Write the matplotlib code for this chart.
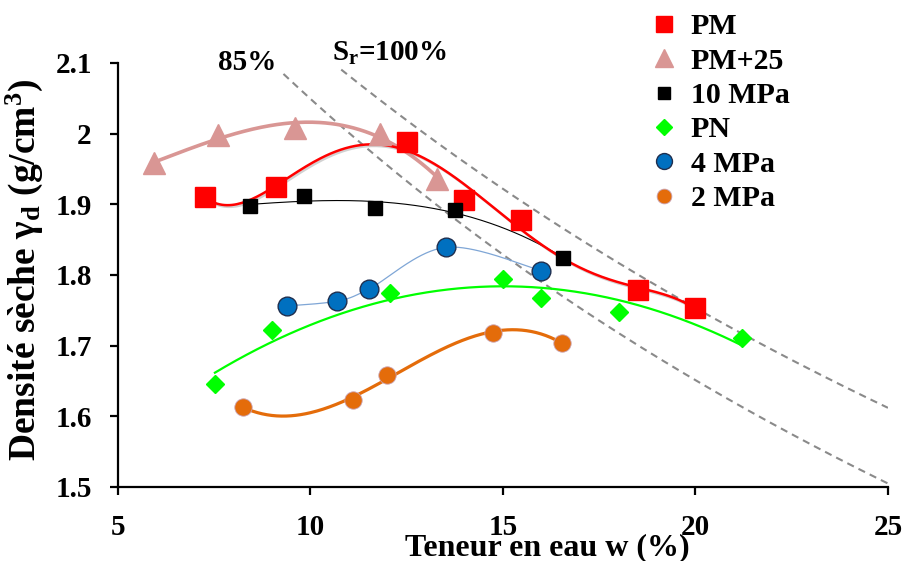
import numpy as np
import matplotlib
matplotlib.use("Agg")
import matplotlib.pyplot as plt
import matplotlib.patheffects as pe

plt.rcParams['font.family'] = ['Liberation Serif', 'DejaVu Serif']
plt.rcParams['font.weight'] = 'bold'
plt.rcParams['mathtext.fontset'] = 'custom'
plt.rcParams['mathtext.rm'] = 'Liberation Serif:bold'
plt.rcParams['mathtext.it'] = 'Liberation Serif:bold:italic'
plt.rcParams['mathtext.bf'] = 'Liberation Serif:bold'

# Données (w en %, densité en g/cm3)
pm_w = [7.26, 9.10, 12.5, 14.0, 15.47, 18.5, 20.0]
pm_d = [1.910, 1.924, 1.988, 1.906, 1.878, 1.779, 1.753]

pm25_w = [5.95, 7.6, 9.6, 11.8, 13.3]
pm25_d = [1.958, 1.998, 2.008, 2.000, 1.936]

mpa10_w = [8.43, 9.83, 11.67, 13.75, 16.56]
mpa10_d = [1.897, 1.912, 1.895, 1.892, 1.824]

pn_w = [7.52, 9.0, 12.06, 15.0, 15.99, 18.01, 21.2]
pn_d = [1.645, 1.722, 1.774, 1.794, 1.768, 1.748, 1.711]

mpa4_w = [9.39, 10.69, 11.52, 13.52, 16.0]
mpa4_d = [1.756, 1.763, 1.780, 1.839, 1.806]

mpa2_w = [8.25, 11.1, 12.0, 14.74, 16.53]
mpa2_d = [1.613, 1.623, 1.658, 1.718, 1.704]

# courbes de saturation (Gs, Sr, début de tracé en w %)
gs = 2.70
sr_levels = [0.85, 1.0]
sr_start = [9.3, 10.8]


def trend(ax, w, d, deg, **kw):
    c = np.polyfit(w, d, deg)
    xx = np.linspace(min(w), max(w), 200)
    ax.plot(xx, np.polyval(c, xx), **kw)


def smooth(ax, w, d, **kw):
    # lissage type Excel (Catmull-Rom)
    p = np.column_stack([w, d])
    p = np.vstack([p[0], p, p[-1]])
    xs, ys = [], []
    t = np.linspace(0, 1, 40)
    for i in range(1, len(p) - 2):
        p0, p1, p2, p3 = p[i - 1], p[i], p[i + 1], p[i + 2]
        for k in range(2):
            a = p0[k]; b = p1[k]; cc = p2[k]; dd = p3[k]
            v = 0.5 * (2 * b + (-a + cc) * t + (2 * a - 5 * b + 4 * cc - dd) * t**2
                       + (-a + 3 * b - 3 * cc + dd) * t**3)
            (xs if k == 0 else ys).extend(v)
    ax.plot(xs, ys, **kw)


fig = plt.figure(figsize=(9.07, 5.61), dpi=100)
ax = fig.add_axes([0.130, 0.132, 0.849, 0.756])

for sr, w0 in zip(sr_levels, sr_start):
    ws = np.linspace(w0, 25, 200)
    ax.plot(ws, gs / (1 + ws / 100 * gs / sr), color='#8a8a8a',
            lw=1.5, dashes=(3.5, 2.5), zorder=1)

pink = '#D99694'
orange = '#E46C0A'
trend(ax, pm25_w, pm25_d, 3, color=pink, lw=2.6, zorder=2)
trend(ax, mpa10_w, mpa10_d, 3, color='black', lw=0.8, zorder=2)
trend(ax, pn_w, pn_d, 2, color='#00FF00', lw=1.6, zorder=2)
smooth(ax, mpa4_w, mpa4_d, color='#7FA6D6', lw=0.9, zorder=2)
trend(ax, mpa2_w, mpa2_d, 3, color=orange, lw=2.3, zorder=2)
trend(ax, pm_w, pm_d, 5, color='red', lw=1.8, zorder=3,
      path_effects=[pe.SimpleLineShadow(offset=(1.2, -1.2), shadow_color='gray', alpha=0.35),
                    pe.Normal()])

ax.plot(pm_w, pm_d, 's', color='red', ms=14, ls='none', label='PM', zorder=4)
ax.plot(pm25_w, pm25_d, '^', color=pink, ms=15.5, ls='none', label='PM+25', zorder=4)
ax.plot(mpa10_w, mpa10_d, 's', color='black', ms=10.5, ls='none', label='10 MPa', zorder=4)
ax.plot(pn_w, pn_d, 'D', color='#00FF00', ms=9, ls='none', label='PN', zorder=4)
ax.plot(mpa4_w, mpa4_d, 'o', color='#0070C0', mec='#1F2F4F', mew=1.0, ms=13.5,
        ls='none', label='4 MPa', zorder=4)
ax.plot(mpa2_w, mpa2_d, 'o', color=orange, mec='#C9A0B0', mew=0.6, ms=12.5,
        ls='none', label='2 MPa', zorder=4)

ax.set_xlim(5, 25)
ax.set_ylim(1.5, 2.1)
ax.set_xticks([5, 10, 15, 20, 25])
ax.set_yticks([1.5, 1.6, 1.7, 1.8, 1.9, 2.0, 2.1])
ax.set_yticklabels(['1.5', '1.6', '1.7', '1.8', '1.9', '2', '2.1'])
for s in ['top', 'right']:
    ax.spines[s].set_visible(False)
for s in ['left', 'bottom']:
    ax.spines[s].set_linewidth(1.6)
ax.tick_params(width=1.6, length=5.8, labelsize=21, direction='out')
ax.tick_params(axis='x', pad=14)
ax.tick_params(axis='y', pad=13)

ax.set_xlabel('Teneur en eau w (%)', fontsize=23, fontweight='bold')
ax.xaxis.set_label_coords(0.557, -0.11)
ax.set_ylabel('Densité sèche γ$_\\mathrm{d}$ (g/cm$^\\mathrm{3}$)', fontsize=27,
              fontweight='bold')
ax.yaxis.set_label_coords(-0.095, 0.512)

fig.text(0.24, 0.888, '85%', fontsize=21, fontweight='bold', ha='left', va='center')
fig.text(0.366, 0.905, 'S$_\\mathrm{r}$=100%', fontsize=21, fontweight='bold',
         ha='left', va='center')

fig.legend(loc='upper left', bbox_to_anchor=(0.709, 0.982), frameon=False,
           fontsize=21.5, handletextpad=0.3, labelspacing=0.25, borderaxespad=0,
           borderpad=0.1, handlelength=1.2, markerscale=0.85)

fig.savefig('out.png', dpi=100)
